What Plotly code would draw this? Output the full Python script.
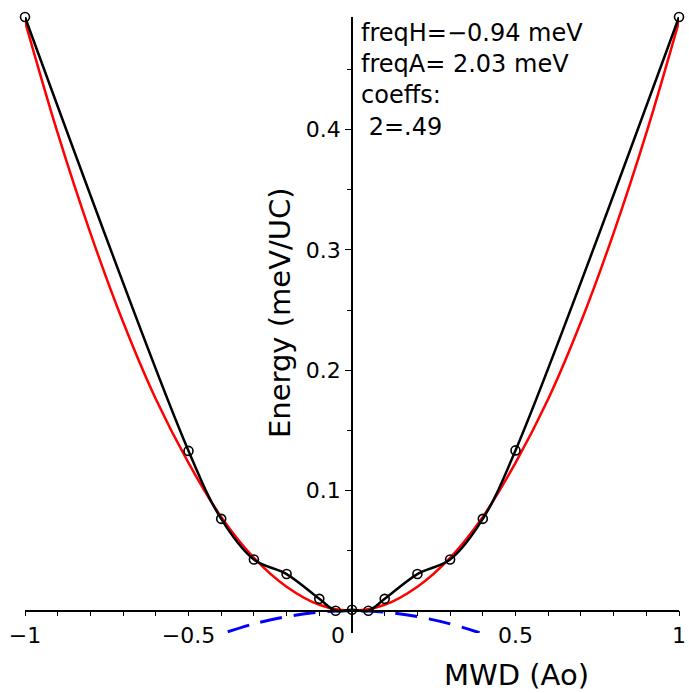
import plotly.graph_objects as go

# ---- data ----
calc_x = [-1.0, -0.5, -0.4, -0.3, -0.2, -0.1, -0.05, 0.0, 0.05, 0.1, 0.2, 0.3, 0.4, 0.5, 1.0]
calc_y = [0.4936, 0.1329, 0.0764, 0.0426, 0.0305, 0.0099, 0.0, 0.0008, 0.0, 0.0099, 0.0305, 0.0426, 0.0764, 0.1333, 0.4936]

fit_x = [-1.0, -0.9, -0.8, -0.7, -0.6, -0.5, -0.4, -0.3, -0.2, -0.1, 0.0,
         0.1, 0.2, 0.3, 0.4, 0.5, 0.6, 0.7, 0.8, 0.9, 1.0]
fit_y = [0.490, 0.397, 0.314, 0.240, 0.176, 0.123, 0.078, 0.044, 0.020, 0.005, 0.0,
         0.005, 0.020, 0.044, 0.078, 0.123, 0.176, 0.240, 0.314, 0.397, 0.490]

harm_x = [-0.38, -0.3, -0.2, -0.1, 0.0, 0.1, 0.2, 0.3, 0.39]
harm_y = [-0.0175, -0.0109, -0.0049, -0.0012, 0.0, -0.0012, -0.0049, -0.0109, -0.0183]

x_tickvals = [-1, -0.5, 0, 0.5, 1]
x_ticktext = ["\u22121", "\u22120.5", "0\u00a0\u00a0\u00a0\u00a0", "0.5", "1"]
y_tickvals = [0.1, 0.2, 0.3, 0.4]
y_ticktext = ["0.1", "0.2", "0.3", "0.4"]

info_lines = ["freqH=\u22120.94 meV", "freqA= 2.03 meV", "coeffs:", "\u00a02=.49"]

X_RANGE = [-1.0, 1.0]
Y_RANGE = [-0.0185, 0.4936]

FONT = "DejaVu Sans"

fig = go.Figure()

fig.add_trace(go.Scatter(
    x=harm_x, y=harm_y, mode="lines",
    line=dict(color="#0000ff", width=3, dash="22px,12px", shape="spline"),
    hoverinfo="skip", showlegend=False,
))
fig.add_trace(go.Scatter(
    x=fit_x, y=fit_y, mode="lines",
    line=dict(color="#ff0000", width=2.5, shape="spline"),
    hoverinfo="skip", showlegend=False,
))
fig.add_trace(go.Scatter(
    x=calc_x, y=calc_y, mode="lines+markers",
    line=dict(color="black", width=2.5, shape="spline", smoothing=1),
    marker=dict(symbol="circle-open", size=9, color="black", line=dict(width=1.6, color="black")),
    cliponaxis=False,
    hoverinfo="skip", showlegend=False,
))

ypos = (0 - Y_RANGE[0]) / (Y_RANGE[1] - Y_RANGE[0])
xpos = (0 - X_RANGE[0]) / (X_RANGE[1] - X_RANGE[0])

fig.update_layout(
    template="none",
    width=689, height=693,
    margin=dict(l=25, r=10, t=17, b=60, autoexpand=False),
    paper_bgcolor="white", plot_bgcolor="white",
    font=dict(family=FONT, color="black", size=22),
    showlegend=False,
    xaxis=dict(
        range=X_RANGE, anchor="free", position=ypos, automargin=False,
        showline=True, linecolor="black", linewidth=1.5,
        showgrid=False, zeroline=False,
        tickmode="array", tickvals=x_tickvals, ticktext=x_ticktext,
        ticks="outside", ticklen=5, tickwidth=1, tickcolor="black",
        tickfont=dict(family=FONT, size=22, color="black"),
        minor=dict(dtick=0.1, tick0=0, ticks="outside", ticklen=5, tickwidth=1, tickcolor="black", showgrid=False),
    ),
    yaxis=dict(
        range=Y_RANGE, anchor="free", position=xpos, automargin=False,
        showline=True, linecolor="black", linewidth=1.5,
        showgrid=False, zeroline=False,
        tickmode="array", tickvals=y_tickvals, ticktext=y_ticktext,
        ticks="outside", ticklen=6, tickwidth=1, tickcolor="black",
        tickfont=dict(family=FONT, size=22, color="black"),
        minor=dict(dtick=0.05, tick0=0, ticks="outside", ticklen=4, tickwidth=1, tickcolor="black", showgrid=False),
    ),
)

# axis titles (Maple style placement)
fig.add_annotation(
    text="MWD (Ao)", xref="paper", yref="paper",
    x=(516 - 25) / 654, y=-(675 - 633) / 616,
    xanchor="center", yanchor="middle", showarrow=False,
    font=dict(family=FONT, size=29, color="black"),
)
fig.add_annotation(
    text="Energy (meV/UC)", xref="paper", yref="paper",
    x=(280 - 25) / 654, y=(633 - 313) / 616,
    xanchor="center", yanchor="middle", textangle=-90, showarrow=False,
    font=dict(family=FONT, size=29, color="black"),
)
fig.add_annotation(
    text="<br>".join(info_lines), xref="paper", yref="paper",
    x=(359 - 25) / 654, y=(633 - 17) / 616,
    xanchor="left", yanchor="top", align="left", showarrow=False,
    font=dict(family=FONT, size=24, color="black"),
)

fig.write_html("out.html")
